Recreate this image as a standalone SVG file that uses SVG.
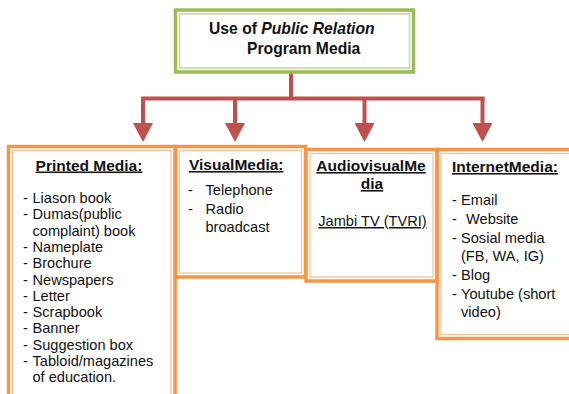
<svg xmlns="http://www.w3.org/2000/svg" width="569" height="394" viewBox="0 0 569 394">
  <style>
    text { font-family: "Liberation Sans", Arial, sans-serif; fill: #111; }
    .title { font-size: 15.7px; font-weight: bold; }
    .head { font-size: 15.5px; font-weight: bold; text-decoration: underline; }
    .item { font-size: 14.6px; }
    .outer-o { fill: none; stroke: #F79646; stroke-width: 3.5; }
    .inner-o { fill: none; stroke: #FAC090; stroke-width: 1.2; }
    .outer-g { fill: none; stroke: #9BBB59; stroke-width: 3.5; }
    .inner-g { fill: none; stroke: #C3D69B; stroke-width: 1.5; }
    .link { fill: none; stroke: #C0504D; stroke-width: 4; }
  </style>
  <defs>
    <marker id="head" viewBox="0 0 19 20" refX="0" refY="10" markerWidth="19" markerHeight="20" markerUnits="userSpaceOnUse" orient="auto">
      <path d="M0,0 L19,10 L0,20 Z" fill="#C0504D"/>
    </marker>
  </defs>
  <rect width="569" height="394" fill="#fff"/>

  <!-- connectors -->
  <g id="connectors">
    <path class="link" d="M291,73 V98.5 M141,98.5 H484.5"/>
    <path class="link" d="M143,98.5 V123" marker-end="url(#head)"/>
    <path class="link" d="M235,98.5 V123" marker-end="url(#head)"/>
    <path class="link" d="M364.5,98.5 V123" marker-end="url(#head)"/>
    <path class="link" d="M482.5,98.5 V123" marker-end="url(#head)"/>
  </g>

  <!-- root -->
  <g id="root">
    <rect class="outer-g" x="175.5" y="10" width="238" height="62"/>
    <rect class="inner-g" x="179.5" y="14" width="230" height="54"/>
    <text class="title" x="209" y="33.5">Use of <tspan font-style="italic">Public Relation</tspan></text>
    <text class="title" x="247" y="53.5">Program Media</text>
  </g>

  <!-- printed media -->
  <g id="printed">
    <rect class="outer-o" x="8.5" y="146.5" width="166.5" height="270"/>
    <rect class="inner-o" x="12.5" y="150.5" width="158.5" height="262"/>
    <text class="head" x="89" y="170.5" text-anchor="middle">Printed Media:</text>
    <g class="item">
      <text x="23" y="203">-</text><text x="32.5" y="203">Liason book</text>
      <text x="23" y="219.3">-</text><text x="32.5" y="219.3">Dumas(public</text>
      <text x="32.5" y="235.6">complaint) book</text>
      <text x="23" y="251.9">-</text><text x="32.5" y="251.9">Nameplate</text>
      <text x="23" y="268.2">-</text><text x="32.5" y="268.2">Brochure</text>
      <text x="23" y="284.5">-</text><text x="32.5" y="284.5">Newspapers</text>
      <text x="23" y="300.8">-</text><text x="32.5" y="300.8">Letter</text>
      <text x="23" y="317.1">-</text><text x="32.5" y="317.1">Scrapbook</text>
      <text x="23" y="333.4">-</text><text x="32.5" y="333.4">Banner</text>
      <text x="23" y="349.7">-</text><text x="32.5" y="349.7">Suggestion box</text>
      <text x="23" y="366">-</text><text x="32.5" y="366">Tabloid/magazines</text>
      <text x="32.5" y="382.3">of education.</text>
    </g>
  </g>

  <!-- visual media -->
  <g id="visual">
    <rect class="outer-o" x="175.5" y="146.5" width="130" height="130.5"/>
    <rect class="inner-o" x="179.5" y="150.5" width="122" height="122.5"/>
    <text class="head" x="189" y="170">VisualMedia:</text>
    <g class="item">
      <text x="188" y="195">-</text><text x="205.5" y="195">Telephone</text>
      <text x="188" y="213.5">-</text><text x="205.5" y="213.5">Radio</text>
      <text x="205.5" y="232">broadcast</text>
    </g>
  </g>

  <!-- audiovisual media -->
  <g id="audiovisual">
    <rect class="outer-o" x="306" y="149.5" width="131" height="131.5"/>
    <rect class="inner-o" x="310" y="153.5" width="123" height="123.5"/>
    <text class="head" x="371" y="171" text-anchor="middle">AudiovisualMe</text>
    <text class="head" x="372" y="189" text-anchor="middle">dia</text>
    <text class="item" x="372.5" y="226" text-anchor="middle" text-decoration="underline">Jambi TV (TVRI)</text>
  </g>

  <!-- internet media -->
  <g id="internet">
    <rect class="outer-o" x="437" y="149.5" width="150" height="189"/>
    <rect class="inner-o" x="441" y="153.5" width="142" height="181"/>
    <text class="head" x="452" y="172">InternetMedia:</text>
    <g class="item">
      <text x="452" y="205">-</text><text x="461" y="205">Email</text>
      <text x="452" y="223.5">-</text><text x="466" y="223.5">Website</text>
      <text x="452" y="242.5">-</text><text x="461" y="242.5">Sosial media</text>
      <text x="461" y="261">(FB, WA, IG)</text>
      <text x="452" y="280">-</text><text x="461" y="280">Blog</text>
      <text x="452" y="298.5">-</text><text x="461" y="298.5">Youtube (short</text>
      <text x="461" y="317">video)</text>
    </g>
  </g>
</svg>
